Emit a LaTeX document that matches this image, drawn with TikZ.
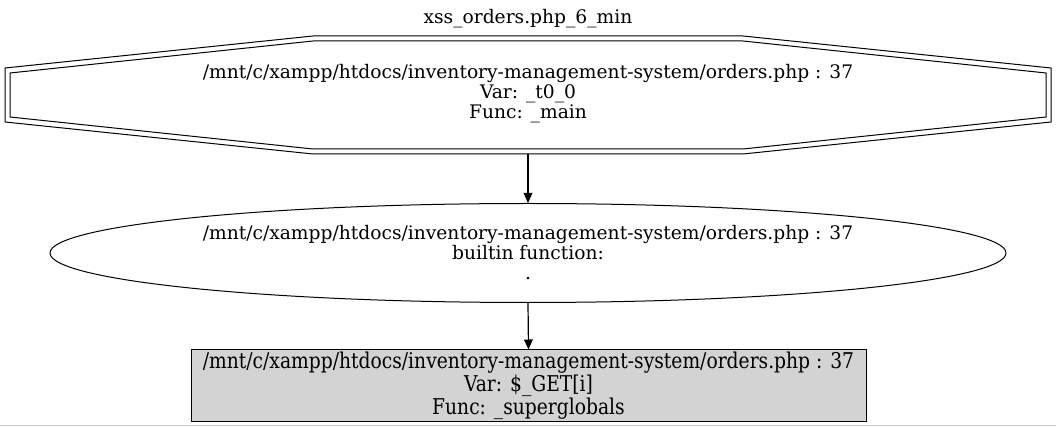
\documentclass[tikz,border=0pt]{standalone}
\usepackage{fontspec}
\setmainfont{DejaVu Serif}
\newfontfamily\condfont[FakeStretch=0.86]{DejaVu Serif}
\usetikzlibrary{shapes.geometric,arrows.meta}
\definecolor{boxgray}{HTML}{D3D3D3}
\definecolor{rulegray}{HTML}{C8C8C8}
\tikzset{
  x=0.75pt, y=-0.75pt,
  lbl/.style={font=\fontsize{14pt}{15pt}\selectfont, align=center, inner sep=0pt},
  condlbl/.style={font=\condfont\fontsize{16.3pt}{15pt}\selectfont, align=center, inner sep=0pt},
  edge/.style={line width=0.9pt, -{Triangle[length=7.5pt,width=6.5pt]}},
  outline/.style={line width=0.75pt, draw=black},
}
\begin{document}
\begin{tikzpicture}
\useasboundingbox (0,0) rectangle (1056,427);
% title
\node[lbl] (title) at (528,19) {xss\_orders.php\_6\_min};
% octagon (double)
\node[lbl, minimum width=784.5pt, minimum height=88.5pt] (n1) at (528,95) {};
\node[lbl] (t1) at (528,94) {/mnt/c/xampp/htdocs/inventory-management-system/orders.php : 37\\Var: \_t0\_0\\Func: \_main};
\draw[outline] (5,68) -- (313,36) -- (743,36) -- (1051,68) -- (1051,122) -- (743,154) -- (313,154) -- (5,122) -- cycle;
\draw[outline] (10,73) -- (313,41) -- (743,41) -- (1046,73) -- (1046,117) -- (743,149) -- (313,149) -- (10,117) -- cycle;
% ellipse
\node[lbl, ellipse, outline, minimum width=717pt, minimum height=74.25pt] (n2) at (528,253) {/mnt/c/xampp/htdocs/inventory-management-system/orders.php : 37\\builtin function:\\.};
% box
\node[condlbl, rectangle, outline, fill=boxgray, minimum width=506.25pt, minimum height=53.25pt] (n3) at (528.5,385.5) {/mnt/c/xampp/htdocs/inventory-management-system/orders.php : 37\\Var: \$\_GET[i]\\Func: \_superglobals};
% edges
\draw[edge] (n1.south) -- (n2.north);
\draw[edge] (n2.south) -- (n3.north);
% bottom rule
\draw[rulegray, line width=0.75pt] (0,425.5) -- (1056,425.5);
\end{tikzpicture}
\end{document}
